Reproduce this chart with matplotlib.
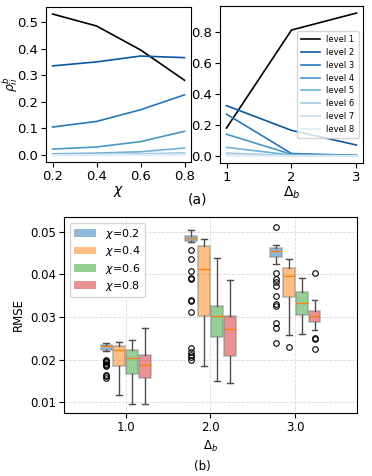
import numpy as np
import matplotlib
matplotlib.use("Agg")
import matplotlib.pyplot as plt
from matplotlib.patches import Patch

# (a) left: rho_ii^b vs chi, one line per level
chi = [0.2, 0.4, 0.6, 0.8]
rho_chi = [
    [0.530, 0.485, 0.395, 0.281],
    [0.335, 0.350, 0.372, 0.366],
    [0.105, 0.126, 0.170, 0.226],
    [0.022, 0.030, 0.050, 0.089],
    [0.004, 0.007, 0.012, 0.026],
    [0.001, 0.002, 0.004, 0.008],
    [0.000, 0.001, 0.001, 0.002],
    [0.000, 0.000, 0.000, 0.001],
]

# (a) right: rho_ii^b vs Delta_b
delta = [1, 2, 3]
rho_delta = [
    [0.180, 0.815, 0.925],
    [0.325, 0.165, 0.070],
    [0.270, 0.015, 0.003],
    [0.140, 0.010, 0.002],
    [0.055, 0.005, 0.001],
    [0.018, 0.002, 0.000],
    [0.005, 0.000, 0.000],
    [0.001, 0.000, 0.000],
]
levels = ["level %d" % i for i in range(1, 9)]

# (b) RMSE box stats per Delta_b (1,2,3) and chi (0.2..0.8)
chi_labels = ["0.2", "0.4", "0.6", "0.8"]
box_colors = ["tab:blue", "tab:orange", "tab:green", "tab:red"]
# [whislo, q1, med, q3, whishi]
stats_d1 = [
    [0.0221, 0.02222, 0.0232, 0.02346, 0.0239],
    [0.01163, 0.01856, 0.02237, 0.02323, 0.0241],
    [0.00961, 0.01661, 0.02051, 0.02222, 0.02471],
    [0.00953, 0.01568, 0.01887, 0.02105, 0.02751],
]
stats_d2 = [
    [0.04751, 0.0479, 0.0486, 0.04907, 0.0504],
    [0.01864, 0.03031, 0.04128, 0.04673, 0.04844],
    [0.01506, 0.02541, 0.03023, 0.03272, 0.04377],
    [0.01451, 0.02082, 0.02728, 0.03031, 0.03872],
]
stats_d3 = [
    [0.04237, 0.04409, 0.04556, 0.04619, 0.04696],
    [0.0258, 0.03475, 0.03973, 0.04152, 0.04354],
    [0.02603, 0.03047, 0.03335, 0.03591, 0.03911],
    [0.02704, 0.02883, 0.03023, 0.0314, 0.03412],
]
fliers_d1 = [
    [0.0200, 0.0197, 0.0194, 0.0191, 0.0188, 0.0185, 0.0165, 0.0161, 0.0158],
    [], [], [],
]
fliers_d2 = [
    [0.04564, 0.04362, 0.04082, 0.0391, 0.0389, 0.03412, 0.0338, 0.03109,
     0.02276, 0.02183, 0.02105, 0.02074, 0.02004],
    [], [], [],
]
fliers_d3 = [
    [0.0512, 0.04035, 0.03895, 0.0382, 0.0374, 0.0349, 0.0331, 0.0327,
     0.02868, 0.02743, 0.02393],
    [0.02292],
    [],
    [0.0404, 0.0251, 0.02486, 0.02261],
]

fig = plt.figure(figsize=(3.72, 4.76), dpi=100)

line_colors = ["black"] + list(plt.cm.Blues(np.linspace(0.85, 0.12, 7)))

ax1 = fig.add_axes([0.1237, 0.6597, 0.390, 0.3256])
for vals, c in zip(rho_chi, line_colors):
    ax1.plot(chi, vals, color=c, lw=1.2)
ax1.set_xticks(chi)
ax1.set_yticks([0.0, 0.1, 0.2, 0.3, 0.4, 0.5])
ax1.set_xlabel(r"$\chi$", fontsize=10, labelpad=1)
ax1.set_ylabel(r"$\rho^b_{ii}$", fontsize=9)
ax1.yaxis.set_label_coords(-0.18, 0.5)
ax1.tick_params(labelsize=9.5, pad=2)

ax2 = fig.add_axes([0.5914, 0.6576, 0.3844, 0.33])
for vals, c, lab in zip(rho_delta, line_colors, levels):
    ax2.plot(delta, vals, color=c, lw=1.2, label=lab)
ax2.set_xticks(delta)
ax2.set_yticks([0.0, 0.2, 0.4, 0.6, 0.8])
ax2.set_xlabel(r"$\Delta_b$", fontsize=10, labelpad=1)
ax2.tick_params(labelsize=9.5, pad=2)
ax2.legend(loc="center right", fontsize=6, handlelength=2.2, labelspacing=0.45,
           borderpad=0.5)

fig.text(0.532, 0.58, "(a)", ha="center", va="center", fontsize=10)

# (b) boxplots
ax3 = fig.add_axes([0.172, 0.1324, 0.7876, 0.4118])
all_stats = [stats_d1, stats_d2, stats_d3]
all_fliers = [fliers_d1, fliers_d2, fliers_d3]
for d, group, flgroup in zip(delta, all_stats, all_fliers):
    for k in range(4):
        s = group[k]
        bs = [dict(whislo=s[0], q1=s[1], med=s[2], q3=s[3], whishi=s[4],
                   fliers=flgroup[k])]
        ax3.bxp(bs, positions=[d + (k - 1.5) * 0.15], widths=0.14,
                patch_artist=True, manage_ticks=False,
                boxprops=dict(facecolor=box_colors[k], alpha=0.5,
                              edgecolor="gray", linewidth=1.2),
                medianprops=dict(color="tab:orange", lw=1),
                whiskerprops=dict(color="0.3", lw=1),
                capprops=dict(color="0.3", lw=1),
                flierprops=dict(marker="o", markersize=4, markerfacecolor="none",
                                markeredgecolor="black", markeredgewidth=0.8))
ax3.set_xlim(0.275, 3.725)
ax3.set_ylim(0.0075, 0.0535)
ax3.set_xticks([1, 2, 3])
ax3.set_xticklabels(["1.0", "2.0", "3.0"])
ax3.set_yticks([0.01, 0.02, 0.03, 0.04, 0.05])
ax3.grid(True, ls="--", color="0.85", lw=0.6)
ax3.tick_params(labelsize=8.5, pad=2)
ax3.set_xlabel(r"$\Delta_b$", fontsize=8.5)
ax3.set_ylabel("RMSE", fontsize=8.5)
handles = [Patch(facecolor=c, alpha=0.5, label=r"$\chi$=" + l)
           for c, l in zip(box_colors, chi_labels)]
ax3.legend(handles=handles, loc="upper left", fontsize=8, handlelength=2.0,
           labelspacing=0.3)

fig.text(0.543, 0.019, "(b)", ha="center", va="center", fontsize=8.5)

fig.savefig("out.png", dpi=100)
